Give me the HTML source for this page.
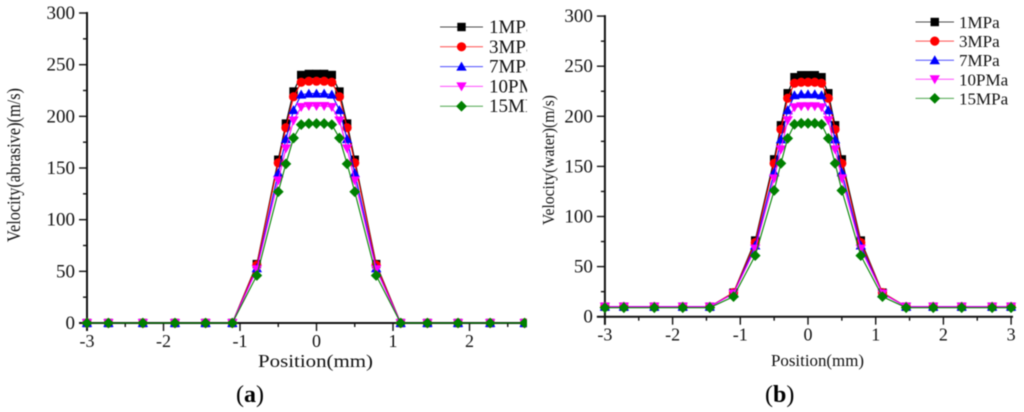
<!DOCTYPE html>
<html>
<head>
<meta charset="utf-8">
<title>Velocity vs position</title>
<style>
html,body{margin:0;padding:0;background:#fff;width:1024px;height:412px;overflow:hidden}
svg{display:block;filter:blur(0.5px)}
text{font-family:"Liberation Serif",serif;fill:#111}
</style>
</head>
<body>
<svg id="chart" width="1024" height="412" viewBox="0 0 1024 412" xmlns="http://www.w3.org/2000/svg">
  <defs>
    <clipPath id="clip-a"><rect x="0" y="0" width="527" height="412"/></clipPath>
  </defs>
  <g id="panel-a" clip-path="url(#clip-a)"></g>
  <g id="panel-b"></g>
  <text x="236" y="402" font-size="24" style="fill:#000">(<tspan font-weight="bold">a</tspan>)</text>
  <text x="765" y="402" font-size="24" style="fill:#000">(<tspan font-weight="bold">b</tspan>)</text>
</svg>
<script>
const positions = [-3,-2.72,-2.27,-1.85,-1.45,-1.1,-0.78,-0.5,-0.4,-0.3,-0.2,-0.1,0,0.1,0.2,0.3,0.4,0.5,0.78,1.1,1.45,1.85,2.27,2.72,3];
const xTickValues = [-3,-2,-1,0,1,2,3];
const xMinorValues = [-2.5,-1.5,-0.5,0.5,1.5,2.5];
const yTickValues = [0,50,100,150,200,250,300];
const yMinorValues = [25,75,125,175,225,275];
const seriesNames = ['1MPa','3MPa','7MPa','10PMa','15MPa'];
const seriesColors = ['#000000','#ff0000','#0000ff','#ff00ff','#008000'];
const seriesMarkers = ['square','circle','up','down','diamond'];

const abrasive1 = [0,0,0,0,0,0,57,158,193,224,240,241,241,241,240,224,193,158,57,0,0,0,0,0,0];
const abrasive3 = [0,0,0,0,0,0,56,155,189,219,233,234,234,234,233,219,189,155,56,0,0,0,0,0,0];
const abrasive7 = [0,0,0,0,0,0,53,145,178,206,221,222,222,222,221,206,178,145,53,0,0,0,0,0,0];
const abrasive10 = [0,0,0,0,0,0,52,138,169,196,209,210,210,210,209,196,169,138,52,0,0,0,0,0,0];
const abrasive15 = [0,0,0,0,0,0,46,127,154,179,192,193,193,193,192,179,154,127,46,0,0,0,0,0,0];

const water1 = [10,10,10,10,10,24,76,157,191,223,239,241,241,241,239,223,191,157,76,24,10,10,10,10,10];
const water3 = [10,10,10,10,10,24,74,153,187,218,233,234,234,234,233,218,187,153,74,24,10,10,10,10,10];
const water7 = [10,10,10,10,10,23,71,144,177,206,221,222,222,222,221,206,177,144,71,23,10,10,10,10,10];
const water10 = [10,10,10,10,10,23,68,138,167,196,209,210,210,210,209,196,167,138,68,23,10,10,10,10,10];
const water15 = [9,9,9,9,9,20,61,126,153,178,192,193,193,193,192,178,153,126,61,20,9,9,9,9,9];

const SVGNS = 'http://www.w3.org/2000/svg';
function mk(parent, tag, attrs) {
  const el = document.createElementNS(SVGNS, tag);
  for (const k in attrs) el.setAttribute(k, attrs[k]);
  parent.appendChild(el);
  return el;
}
function drawMarker(g, kind, cx, cy, color) {
  let el;
  if (kind === 'square') {
    el = mk(g, 'rect', {x: cx - 4.2, y: cy - 4.2, width: 8.4, height: 8.4, fill: color});
  } else if (kind === 'circle') {
    el = mk(g, 'circle', {cx: cx, cy: cy, r: 4.6, fill: color});
  } else if (kind === 'up') {
    el = mk(g, 'polygon', {points: (cx-5.2)+','+(cy+4)+' '+(cx+5.2)+','+(cy+4)+' '+cx+','+(cy-5), fill: color});
  } else if (kind === 'down') {
    el = mk(g, 'polygon', {points: (cx-5.2)+','+(cy-4)+' '+(cx+5.2)+','+(cy-4)+' '+cx+','+(cy+5), fill: color});
  } else {
    el = mk(g, 'polygon', {points: (cx-5.4)+','+cy+' '+cx+','+(cy-5.4)+' '+(cx+5.4)+','+cy+' '+cx+','+(cy+5.4), fill: color});
  }
  
  
}
function drawPanel(root, cfg, seriesList) {
  const xScale = v => cfg.x0 + v * cfg.xUnit;
  const yScale = v => cfg.y0 - v * cfg.yUnit;

  const axes = mk(root, 'g', {});
  
  

  const yAxis = mk(axes, 'line', {x1: xScale(-3), x2: xScale(-3), y1: yScale(300) - 1, y2: cfg.y0 + 8, stroke: '#111', 'stroke-width': 2});
  
  
  const xAxis = mk(axes, 'line', {x1: xScale(-3) - 8, x2: cfg.xEnd, y1: cfg.y0, y2: cfg.y0, stroke: '#111', 'stroke-width': 2});
  
  

  yTickValues.forEach(v => {
    const t = mk(axes, 'line', {x1: xScale(-3) - 8, x2: xScale(-3), y1: yScale(v), y2: yScale(v), stroke: '#111', 'stroke-width': 1.4});
    
    
    const l = mk(axes, 'text', {x: xScale(-3) - 12, y: yScale(v) + 6, 'font-size': 19, 'text-anchor': 'end'});
    l.textContent = v;
    
    
  });
  yMinorValues.forEach(v => {
    const t = mk(axes, 'line', {x1: xScale(-3) - 4, x2: xScale(-3), y1: yScale(v), y2: yScale(v), stroke: '#111', 'stroke-width': 1.4});
    
    
  });
  xTickValues.forEach(v => {
    const t = mk(axes, 'line', {x1: xScale(v), x2: xScale(v), y1: cfg.y0, y2: cfg.y0 + 8, stroke: '#111', 'stroke-width': 1.4});
    
    
    const l = mk(axes, 'text', {x: xScale(v), y: cfg.y0 + 24, 'font-size': 18, 'text-anchor': 'middle'});
    l.textContent = v;
    
    
  });
  xMinorValues.forEach(v => {
    const t = mk(axes, 'line', {x1: xScale(v), x2: xScale(v), y1: cfg.y0, y2: cfg.y0 + 4, stroke: '#111', 'stroke-width': 1.4});
    
    
  });

  const xt = mk(root, 'text', {x: cfg.xTitleX, y: cfg.xTitleY, 'font-size': cfg.xTitleFont, textLength: cfg.xTitleLen, lengthAdjust: 'spacingAndGlyphs'});
  xt.textContent = 'Position(mm)';
  
  

  const yt = mk(root, 'text', {transform: 'translate(' + cfg.yTitleX + ',' + cfg.yTitleBottom + ') rotate(-90)', 'font-size': cfg.yTitleFont, textLength: cfg.yTitleLen, lengthAdjust: 'spacingAndGlyphs'});
  yt.textContent = cfg.yTitle;
  
  

  seriesList.forEach((vals, i) => {
    const g = mk(root, 'g', {});
    
    
    const pts = vals.map((v, j) => xScale(positions[j]).toFixed(2) + ',' + yScale(v).toFixed(2)).join(' ');
    const line = mk(g, 'polyline', {points: pts, fill: 'none', stroke: seriesColors[i], 'stroke-width': 1.1, 'stroke-linejoin': 'round'});
    
    
    vals.forEach((v, j) => drawMarker(g, seriesMarkers[i], xScale(positions[j]), yScale(v), seriesColors[i]));
  });

  const legend = mk(root, 'g', {});
  
  
  seriesNames.forEach((name, i) => {
    const y = cfg.legendY + i * cfg.legendStep;
    const row = mk(legend, 'g', {});
    
    
    mk(row, 'line', {x1: cfg.legendX1, x2: cfg.legendX2, y1: y, y2: y, stroke: seriesColors[i], 'stroke-width': 1, opacity: 0.7});
    drawMarker(row, seriesMarkers[i], (cfg.legendX1 + cfg.legendX2) / 2, y, seriesColors[i]);
    const t = mk(row, 'text', {x: cfg.legendTextX, y: y + 6, 'font-size': cfg.legendFont});
    t.textContent = name;
  });
}

drawPanel(document.getElementById('panel-a'), {
  x0: 316.5, xUnit: 76.5, y0: 323, yUnit: 1.0333, xEnd: 527,
  xTitleX: 258, xTitleY: 367, xTitleLen: 115, xTitleFont: 18,
  yTitle: 'Velocity(abrasive)(m/s)', yTitleX: 20, yTitleBottom: 242, yTitleLen: 154, yTitleFont: 19,
  legendX1: 440, legendX2: 483, legendY: 27, legendStep: 19.8, legendTextX: 489, legendFont: 19
}, [abrasive1, abrasive3, abrasive7, abrasive10, abrasive15]);

drawPanel(document.getElementById('panel-b'), {
  x0: 808, xUnit: 67.7, y0: 316.7, yUnit: 1.002, xEnd: 1013,
  xTitleX: 771, xTitleY: 366, xTitleLen: 93, xTitleFont: 17,
  yTitle: 'Velocity(water)(m/s)', yTitleX: 554, yTitleBottom: 225, yTitleLen: 130, yTitleFont: 17,
  legendX1: 915.5, legendX2: 954, legendY: 22, legendStep: 19.1, legendTextX: 959, legendFont: 17
}, [water1, water3, water7, water10, water15]);
</script>
</body>
</html>
